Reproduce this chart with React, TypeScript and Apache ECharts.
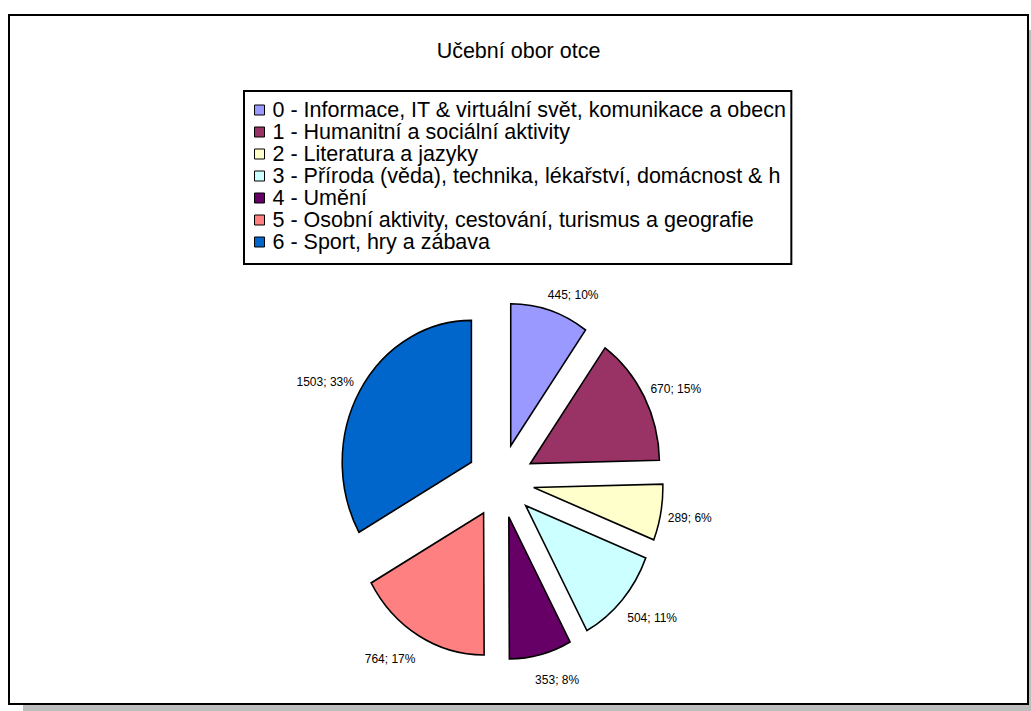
import React, { useEffect, useRef } from 'react';
import * as echarts from 'echarts';

const TITLE = 'Učební obor otce';
const CATEGORIES = [
  '0 - Informace, IT & virtuální svět, komunikace a obecn',
  '1 - Humanitní a sociální aktivity',
  '2 - Literatura a jazyky',
  '3 - Příroda (věda), technika, lékařství, domácnost & h',
  '4 - Umění',
  '5 - Osobní aktivity, cestování, turismus a geografie',
  '6 - Sport, hry a zábava',
];
const VALUES = [445, 670, 289, 504, 353, 764, 1503];
const COLORS = ['#9999FF', '#993366', '#FFFFCC', '#CCFFFF', '#660066', '#FF8080', '#0066CC'];

const FONT = 'Arial, "Liberation Sans", sans-serif';
// layout (pixels)
const CX = 500.5;
const CY = 481;
const R = 142;
const SX = 0.91;
const OFF = 37;
const LABEL_SIZE = 12;

const TOTAL = VALUES.reduce((a, b) => a + b, 0);
const CUM: number[] = [0];
VALUES.forEach((v) => CUM.push(CUM[CUM.length - 1] + v));

let measureCtx: CanvasRenderingContext2D | null = null;
function textWidth(t: string): number {
  if (!measureCtx) {
    const c = document.createElement('canvas');
    measureCtx = c.getContext('2d');
  }
  if (!measureCtx) return t.length * 6;
  measureCtx.font = `${LABEL_SIZE}px ${FONT}`;
  return measureCtx.measureText(t).width;
}

const makeRender = (i: number) => (params: any, api: any) => {
  const v = api.value(0) as number;
  const a0 = (CUM[i] / TOTAL) * Math.PI * 2;
  const a1 = ((CUM[i] + v) / TOTAL) * Math.PI * 2;
  const mid = (a0 + a1) / 2;
  const s = Math.sin(mid);
  const c = Math.cos(mid);
  const ox = CX + SX * OFF * s;
  const oy = CY - OFF * c;
  const color = api.visual('color');

  const label = `${v}; ${Math.round((v / TOTAL) * 100)}%`;
  const px = CX + SX * (OFF + R) * s;
  const py = CY - (OFF + R) * c;
  let ux = SX * s;
  let uy = -c;
  const n = Math.sqrt(ux * ux + uy * uy);
  ux /= n;
  uy /= n;
  const hw = textWidth(label) / 2;
  const k = Math.max(-1, Math.min(1, 3 * ux));
  const lx = px + k * hw + 7 * ux;
  const ly = py + uy * (uy > 0 ? 26 : 16);

  return {
    type: 'group',
    children: [
      {
        type: 'sector',
        x: ox,
        y: oy,
        scaleX: SX,
        scaleY: 1,
        shape: {
          cx: 0,
          cy: 0,
          r: R,
          r0: 0,
          startAngle: a0 - Math.PI / 2,
          endAngle: a1 - Math.PI / 2,
          clockwise: true,
        },
        style: { fill: color, stroke: '#000', lineWidth: 1.7 },
      },
      {
        type: 'text',
        x: lx,
        y: ly,
        style: {
          text: label,
          fill: '#000',
          fontSize: LABEL_SIZE,
          fontFamily: FONT,
          align: 'center',
          verticalAlign: 'middle',
        },
      },
    ],
  };
};

export default function App() {
  const ref = useRef<HTMLDivElement>(null);
  useEffect(() => {
    if (!ref.current) return;
    const chart = echarts.init(ref.current, null, { renderer: 'svg' });
    chart.setOption({
      animation: false,
      color: COLORS,
      graphic: [
        {
          type: 'rect',
          silent: true,
          shape: { x: 23, y: 30, width: 1020, height: 690 },
          style: { fill: '#bdbdbd' },
        },
        {
          type: 'rect',
          silent: true,
          shape: { x: 9, y: 15, width: 1019, height: 689 },
          style: { fill: '#fff', stroke: '#000', lineWidth: 2 },
        },
        {
          type: 'text',
          silent: true,
          x: 518.5,
          y: 51,
          style: {
            text: TITLE,
            fill: '#000',
            fontSize: 21.5,
            fontFamily: FONT,
            align: 'center',
            verticalAlign: 'middle',
          },
        },
      ],
      legend: {
        orient: 'vertical',
        left: 244,
        top: 91,
        icon: 'rect',
        itemWidth: 10,
        itemHeight: 10,
        itemGap: 0,
        padding: [8, 5, 11, 10],
        borderColor: '#000',
        borderWidth: 2,
        backgroundColor: '#fff',
        selectedMode: false,
        itemStyle: { borderColor: '#000', borderWidth: 1 },
        textStyle: {
          fontFamily: FONT,
          fontSize: 21.5,
          color: '#000',
          lineHeight: 21.7,
          padding: [0, 0, 0, 3],
        },
        data: CATEGORIES,
      },
      series: CATEGORIES.map((name, i) => ({
        type: 'custom',
        name,
        coordinateSystem: 'none',
        silent: true,
        itemStyle: { color: COLORS[i] },
        data: [[VALUES[i]]],
        renderItem: makeRender(i),
      })),
    });
    return () => chart.dispose();
  }, []);
  return (
    <div
      ref={ref}
      style={{ position: 'absolute', left: 0, top: 0, width: 1031, height: 711, background: '#fff' }}
    />
  );
}
